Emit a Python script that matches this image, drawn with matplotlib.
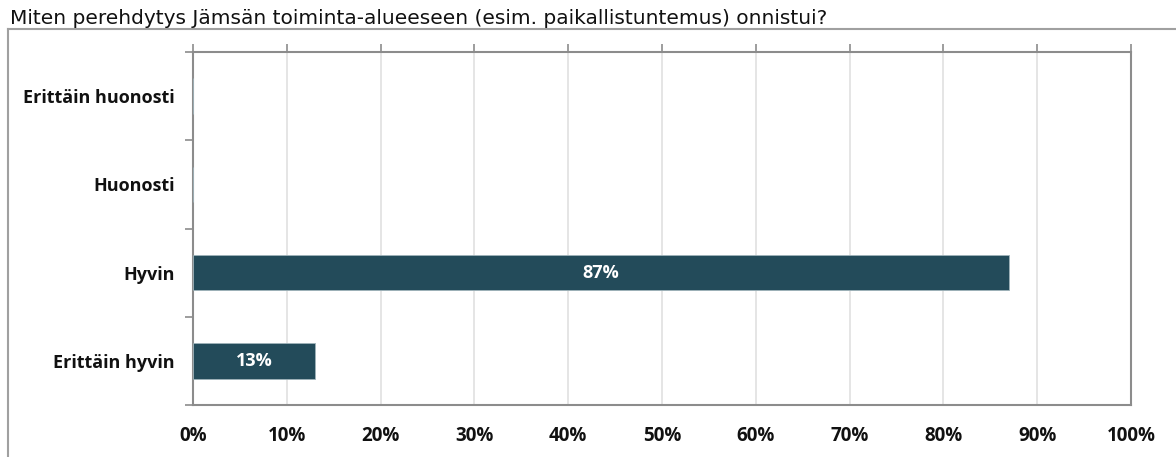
import matplotlib.pyplot as plt
from matplotlib.lines import Line2D
import numpy as np

# survey answers, top to bottom
categories = ['Erittäin huonosti', 'Huonosti', 'Hyvin', 'Erittäin hyvin']
shares = [0, 0, 87, 13]
bar_labels = ['', '', '87%', '13%']
x_ticks = [0, 10, 20, 30, 40, 50, 60, 70, 80, 90, 100]
x_tick_labels = [f'{t}%' for t in x_ticks]
title = 'Miten perehdytys Jämsän toiminta-alueeseen (esim. paikallistuntemus) onnistui?'

W, H = 1176, 457
fig = plt.figure(figsize=(W / 100, H / 100), dpi=100)

# plot area in pixels: left 193, right 1131, top 52, bottom 405
ax = fig.add_axes([193 / W, 1 - 405 / H, (1131 - 193) / W, (405 - 52) / H])

bar_color = '#234b5a'
edge = '#8c8c8c'
lab_font = 'Open Sans'
ypos = np.arange(len(categories))
bars = ax.barh(ypos, shares, height=0.4, color=bar_color, edgecolor='#9fb3ba',
               linewidth=0.6, zorder=3)
for rect, lab in zip(bars, bar_labels):
    if lab:
        ax.text(rect.get_x() + rect.get_width() / 2, rect.get_y() + rect.get_height() / 2,
                lab, ha='center', va='center', color='white', fontsize=13,
                fontweight='bold', family=lab_font, zorder=4)

ax.set_xlim(0, 100)
ax.set_ylim(len(categories) - 0.5, -0.5)

ax.set_xticks(x_ticks)
ax.set_xticklabels(x_tick_labels, fontsize=13.5, fontweight='bold', family=lab_font,
                   color='#111111')
# ticks on the top edge, labels under the bottom edge
ax.xaxis.set_ticks_position('top')
ax.tick_params(axis='x', top=True, bottom=False, labeltop=False, labelbottom=True,
               direction='out', length=6, width=1.2, color=edge, pad=9)

ax.set_yticks(ypos)
ax.set_yticklabels(categories, fontsize=13, fontweight='bold', family=lab_font,
                   color='#111111')
ax.tick_params(axis='y', which='major', length=0, pad=13)
ax.set_yticks(np.arange(-0.5, len(categories) + 0.5, 1), minor=True)
ax.tick_params(axis='y', which='minor', length=6, width=1.2, color=edge, direction='out')

ax.grid(axis='x', color='#e0e0e0', linewidth=1.2, zorder=0)
for s in ax.spines.values():
    s.set_color(edge)
    s.set_linewidth(1.5)

# outer chart frame
fig.add_artist(Line2D([8 / W, 1], [1 - 29 / H, 1 - 29 / H], color='#a0a0a0', lw=1.5,
                      transform=fig.transFigure))
fig.add_artist(Line2D([8 / W, 8 / W], [1 - 29 / H, 0], color='#a0a0a0', lw=1.5,
                      transform=fig.transFigure))

fig.text(10 / W, 1 - 24 / H, title, fontsize=14.5, family='DejaVu Sans', color='#111111',
         ha='left', va='baseline')

fig.savefig('out.png', dpi=100)
